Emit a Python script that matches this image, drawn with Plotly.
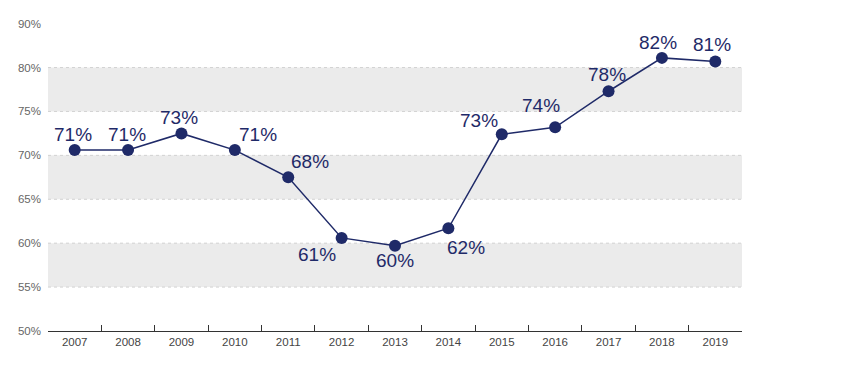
import plotly.graph_objects as go

years = ["2007", "2008", "2009", "2010", "2011", "2012", "2013",
         "2014", "2015", "2016", "2017", "2018", "2019"]
values = [70.6, 70.6, 72.5, 70.6, 67.5, 60.6, 59.7, 61.7, 72.4, 73.2, 77.3, 81.1, 80.7]
labels = ["71%", "71%", "73%", "71%", "68%", "61%", "60%",
          "62%", "73%", "74%", "78%", "82%", "81%"]
# label offsets (pixels) relative to each point
label_dx = [-2, -1, -2, 23, 22, -25, 0, 18, -23, -14, -2, -4, -3]
label_dy = [16, 16, 16, 16, 16, -17, -15, -19, 14, 22, 17, 15, 17]

y_tick_vals = [50, 55, 60, 65, 70, 75, 80, 85]
y_tick_text = ["50%", "55%", "60%", "65%", "70%", "75%", "80%", "90%"]
bands = [(55, 60), (65, 70), (75, 80)]
grid_vals = [55, 60, 65, 70, 75, 80]

NAVY = "#1f2a68"
FONT = "Liberation Sans, Arial, Helvetica, sans-serif"

fig = go.Figure()
fig.add_trace(go.Scatter(
    x=years, y=values, mode="lines+markers",
    line=dict(color=NAVY, width=1.5),
    marker=dict(color=NAVY, size=12),
    cliponaxis=False, showlegend=False, hoverinfo="skip",
))

# on a category axis, annotations use the category index
annotations = [
    dict(x=i, y=v, xref="x", yref="y", text=t, showarrow=False,
         xanchor="center", yanchor="middle", xshift=dx, yshift=dy,
         font=dict(family=FONT, size=19, color=NAVY))
    for i, (v, t, dx, dy) in enumerate(zip(values, labels, label_dx, label_dy))
]

shapes = []
for lo, hi in bands:
    shapes.append(dict(type="rect", xref="paper", yref="y", x0=0, x1=1, y0=lo, y1=hi,
                       fillcolor="#ebebeb", line=dict(width=0), layer="below"))
for g in grid_vals:
    shapes.append(dict(type="line", xref="paper", yref="y", x0=0, x1=1, y0=g, y1=g,
                       line=dict(color="#d2d2d2", width=1, dash="dot"), layer="below"))

fig.update_layout(
    width=847, height=357,
    margin=dict(l=40, r=113, t=13, b=34, autoexpand=False),
    paper_bgcolor="white", plot_bgcolor="white",
    shapes=shapes, annotations=annotations,
    xaxis=dict(
        type="category", range=[-0.5, 12.5], automargin=False,
        showgrid=False, showline=True, linecolor="#333", linewidth=1.2,
        ticks="inside", ticklen=6, tickcolor="#333", tickson="boundaries",
        tickfont=dict(family=FONT, size=11.5, color="#444"),
        zeroline=False, fixedrange=True,
    ),
    yaxis=dict(
        range=[50, 85.3], tickvals=y_tick_vals, ticktext=y_tick_text, automargin=False,
        showgrid=False, zeroline=False, showline=False, ticks="",
        tickfont=dict(family=FONT, size=11.5, color="#666"),
        ticklabelstandoff=6, fixedrange=True,
    ),
)

fig.write_html("out.html")
